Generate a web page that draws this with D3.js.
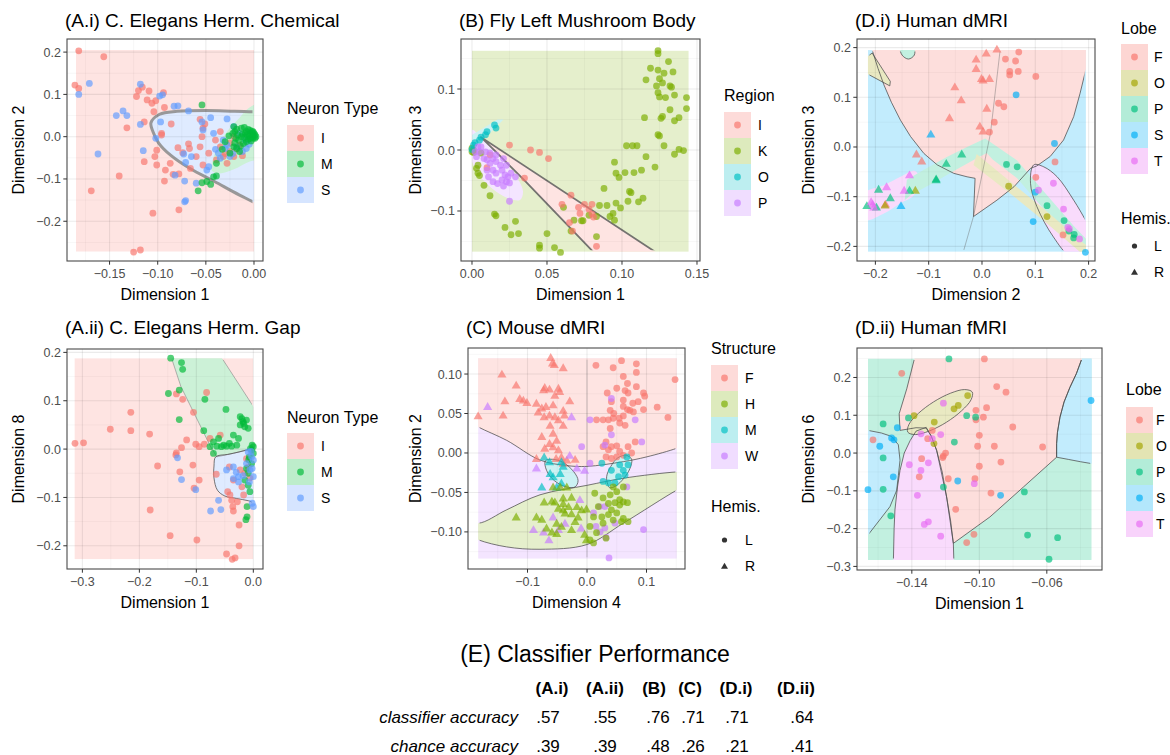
<!DOCTYPE html>
<html>
<head>
<meta charset="utf-8">
<script src="https://cdn.jsdelivr.net/npm/d3@7"></script>
<style>
  body { margin: 0; background: #ffffff; }
  svg { display: block; font-family: "Liberation Sans", Arial, Helvetica, sans-serif; }
</style>
</head>
<body>
<svg id="fig" width="1170" height="755"></svg>
<script>
// ---------- palettes ----------
const hue3 = ["#F8766D", "#00BA38", "#619CFF"];
const hue4 = ["#F8766D", "#7CAE00", "#00BFC4", "#C77CFF"];
const hue5 = ["#F8766D", "#A3A500", "#00BF7D", "#00B0F6", "#E76BF3"];

// ---------- (A.i) C. elegans chemical: embedding points ----------
const neuronTypes = ["I", "M", "S"];
const chemI = [[-0.182,0.203],[-0.156,0.189],[-0.186,0.122],[-0.182,0.114],[-0.120,0.109],[-0.116,0.117],[-0.122,0.095],[-0.109,0.108],[-0.111,0.087],[-0.106,0.079],[-0.102,0.085],[-0.094,0.104],[-0.104,0.059],[-0.093,0.069],[-0.114,0.035],[-0.132,0.021],[-0.086,0.030],[-0.096,0.004],[-0.101,-0.032],[-0.079,-0.026],[-0.068,-0.017],[-0.067,-0.028],[-0.056,-0.024],[-0.054,0.000],[-0.053,0.020],[-0.056,0.041],[-0.051,0.030],[-0.103,-0.047],[-0.114,-0.059],[-0.101,-0.067],[-0.087,-0.063],[-0.092,-0.079],[-0.084,-0.089],[-0.078,-0.088],[-0.093,-0.105],[-0.140,-0.093],[-0.169,-0.128],[-0.105,-0.181],[-0.078,-0.173],[-0.125,-0.273],[-0.118,-0.268],[-0.066,-0.075],[-0.053,-0.067],[-0.040,-0.008],[-0.035,-0.024],[-0.032,-0.047],[-0.025,-0.035],[-0.028,-0.063],[-0.021,-0.047],[-0.021,0.000],[-0.015,-0.020],[-0.047,-0.039],[-0.039,-0.055],[-0.035,0.012],[-0.060,-0.047],[-0.074,-0.038],[-0.096,0.008],[-0.025,-0.015],[-0.018,-0.030],[-0.030,-0.040],[-0.012,-0.045]];
const chemM = [[-0.054,0.075],[-0.021,0.024],[-0.013,0.020],[-0.008,0.012],[-0.004,0.008],[-0.002,0.000],[-0.001,0.004],[-0.006,-0.006],[-0.011,-0.016],[-0.016,-0.008],[-0.013,0.000],[-0.009,0.008],[-0.004,-0.004],[-0.001,-0.004],[0.001,0.004],[-0.021,-0.024],[-0.025,-0.039],[-0.030,-0.012],[-0.015,-0.035],[-0.039,-0.063],[-0.042,-0.095],[-0.039,-0.093],[-0.054,-0.109],[-0.045,-0.113],[-0.049,-0.106],[-0.058,-0.128],[-0.020,0.012],[-0.006,0.017],[-0.002,0.012],[0.001,-0.004],[-0.018,0.018],[-0.010,0.022],[-0.005,0.002],[-0.003,-0.010],[-0.008,-0.012],[-0.012,0.006],[-0.017,0.004],[-0.019,-0.004],[-0.022,0.008],[-0.007,0.004],[0.000,0.008],[0.002,0.000],[-0.004,0.015],[-0.014,-0.022],[-0.020,-0.015],[-0.026,0.002],[-0.033,-0.030],[-0.018,-0.028],[-0.010,-0.002],[-0.001,0.012]];
const chemS = [[-0.171,0.126],[-0.182,0.100],[-0.162,-0.041],[-0.143,0.050],[-0.136,0.061],[-0.132,0.050],[-0.118,0.124],[-0.098,0.096],[-0.095,0.099],[-0.083,0.072],[-0.079,0.073],[-0.068,0.061],[-0.118,0.029],[-0.102,-0.004],[-0.115,-0.033],[-0.097,0.035],[-0.073,-0.041],[-0.065,-0.047],[-0.071,-0.061],[-0.082,-0.091],[-0.072,-0.105],[-0.072,-0.154],[-0.071,-0.151],[-0.060,-0.110],[-0.054,0.035],[-0.045,0.045],[-0.028,0.042],[-0.053,0.016],[-0.042,0.008],[-0.047,-0.071],[-0.037,-0.039],[-0.030,-0.028],[-0.025,-0.047],[-0.018,-0.024],[-0.021,0.024],[-0.015,0.008],[-0.009,-0.008],[-0.008,-0.028],[-0.035,-0.051],[-0.049,-0.079],[-0.028,-0.020],[-0.022,-0.040],[-0.012,-0.035],[-0.032,-0.008],[-0.040,-0.030],[-0.005,-0.018]];
// classifier regions (data coordinates)
const chemArea = { cls: "I", x: [-0.185, 0.0], y: [-0.272, 0.205] };
const chemRegionS = [[0.012,0.058],[-0.02,0.060],[-0.05,0.062],[-0.08,0.060],[-0.098,0.053],[-0.107,0.033],[-0.105,0.012],[-0.099,-0.015],[-0.086,-0.045],[-0.066,-0.076],[-0.041,-0.106],[-0.015,-0.138],[0.012,-0.166],[0.025,-0.166],[0.025,0.058]];
const chemRegionM = [[0.012,0.082],[-0.004,0.070],[-0.015,0.045],[-0.027,0.015],[-0.037,-0.020],[-0.043,-0.055],[-0.044,-0.080],[-0.036,-0.087],[-0.021,-0.077],[-0.005,-0.059],[0.012,-0.046]];

// ---------- (A.ii) C. elegans gap junctions ----------
const gapI = [[-0.313,0.012],[-0.298,0.013],[-0.251,0.041],[-0.215,0.076],[-0.215,0.038],[-0.182,0.031],[-0.168,-0.035],[-0.181,-0.126],[-0.146,-0.179],[-0.099,-0.188],[-0.047,-0.217],[-0.037,-0.228],[-0.032,-0.225],[-0.025,-0.200],[-0.025,-0.157],[-0.135,0.114],[-0.124,0.103],[-0.082,0.117],[-0.105,0.076],[-0.117,0.019],[-0.126,0.003],[-0.135,-0.008],[-0.136,-0.012],[-0.129,-0.047],[-0.106,-0.033],[-0.101,0.010],[-0.095,0.005],[-0.086,0.010],[-0.095,-0.064],[-0.104,-0.081],[-0.076,0.022],[-0.058,0.029],[-0.065,-0.052],[-0.042,-0.037],[-0.045,-0.088],[-0.041,-0.095],[-0.038,-0.106],[-0.028,-0.109],[-0.036,-0.119],[-0.035,-0.128],[-0.035,-0.064],[-0.023,-0.043],[-0.015,-0.050],[-0.009,-0.037],[-0.020,-0.078],[-0.012,-0.020],[-0.006,-0.060],[-0.017,-0.095]];
const gapM = [[-0.145,0.188],[-0.126,0.179],[-0.124,0.165],[-0.149,0.115],[-0.130,0.122],[-0.085,0.103],[-0.048,0.082],[-0.130,0.061],[-0.087,0.038],[-0.023,0.067],[-0.020,0.063],[-0.018,0.057],[-0.012,0.060],[-0.023,0.050],[-0.015,0.046],[-0.009,0.043],[-0.035,0.029],[-0.026,0.022],[-0.061,0.022],[-0.070,0.015],[-0.076,0.005],[-0.064,0.006],[-0.056,0.005],[-0.047,0.006],[-0.038,0.006],[-0.029,0.008],[-0.070,-0.009],[0.000,0.005],[-0.003,-0.002],[-0.007,-0.016],[-0.009,-0.050],[-0.015,-0.064],[-0.009,-0.075],[-0.006,-0.088],[-0.011,-0.119],[-0.013,-0.146],[-0.011,-0.140],[-0.002,0.008],[0.000,-0.009],[-0.003,-0.030],[-0.017,0.053],[-0.005,0.001],[-0.052,0.008],[-0.042,0.012],[-0.008,-0.022],[-0.012,-0.040]];
const gapS = [[-0.133,-0.018],[-0.126,-0.063],[-0.101,-0.084],[-0.061,-0.106],[-0.057,-0.125],[-0.075,-0.128],[-0.047,-0.043],[-0.035,-0.037],[-0.026,-0.057],[-0.026,-0.068],[-0.012,-0.030],[-0.006,-0.043],[-0.003,-0.016],[0.000,-0.023],[-0.002,-0.040],[0.000,-0.057],[-0.007,-0.068],[0.000,-0.119],[-0.002,-0.112],[-0.009,-0.006],[-0.035,-0.061],[-0.004,-0.005],[-0.030,-0.048],[-0.018,-0.055]];
const gapArea = { cls: "I", x: [-0.314, 0.0], y: [-0.228, 0.188] };
const gapRegionM = [[-0.145,0.21],[-0.057,0.21],[-0.055,0.188],[0.005,0.079],[0.005,0.008],[-0.005,0.0],[-0.013,-0.002],[-0.036,-0.009],[-0.064,-0.016],[-0.075,0.005],[-0.098,0.06],[-0.127,0.129],[-0.1435,0.188]];
const gapRegionS = [[-0.066,-0.016],[-0.045,-0.011],[-0.025,-0.006],[-0.008,-0.001],[0.006,0.002],[0.006,-0.112],[-0.008,-0.107],[-0.030,-0.102],[-0.050,-0.097],[-0.063,-0.085],[-0.069,-0.060],[-0.069,-0.035]];

// ---------- (B) Fly left mushroom body ----------
const flyRegions = ["I", "K", "O", "P"];
const flyI = [[0.025,0.008],[0.039,0.000],[0.045,-0.004],[0.051,-0.014],[0.035,-0.046],[0.010,-0.029],[0.012,-0.008],[0.066,-0.074],[0.060,-0.089],[0.071,-0.094],[0.072,-0.104],[0.075,-0.089],[0.078,-0.097],[0.080,-0.089],[0.080,-0.105],[0.081,-0.110],[0.065,-0.119],[0.067,-0.133],[0.083,-0.158]];
const flyK = [[0.124,0.163],[0.124,0.158],[0.131,0.145],[0.119,0.134],[0.124,0.131],[0.134,0.128],[0.116,0.115],[0.125,0.117],[0.128,0.126],[0.123,0.105],[0.127,0.110],[0.132,0.105],[0.133,0.103],[0.124,0.094],[0.125,0.087],[0.129,0.086],[0.135,0.090],[0.143,0.086],[0.143,0.068],[0.132,0.066],[0.138,0.053],[0.135,0.048],[0.127,0.055],[0.126,0.052],[0.115,0.053],[0.124,0.025],[0.125,0.023],[0.128,0.007],[0.135,-0.007],[0.138,0.001],[0.141,-0.001],[0.116,-0.011],[0.103,0.007],[0.107,0.007],[0.110,0.007],[0.113,-0.033],[0.108,-0.037],[0.102,-0.037],[0.095,-0.020],[0.096,-0.038],[0.098,-0.045],[0.122,-0.028],[0.114,-0.079],[0.111,-0.085],[0.104,-0.084],[0.106,-0.070],[0.105,-0.068],[0.099,-0.095],[0.096,-0.087],[0.094,-0.104],[0.092,-0.109],[0.090,-0.091],[0.085,-0.091],[0.083,-0.109],[0.095,-0.115],[0.088,-0.063],[0.074,-0.116],[0.073,-0.116],[0.066,-0.133],[0.061,-0.094],[0.083,-0.142],[0.050,-0.137],[0.045,-0.156],[0.045,-0.161],[0.055,-0.160],[0.059,-0.168],[0.031,-0.137],[0.026,-0.139],[0.022,-0.127],[0.029,-0.117],[0.016,-0.108],[0.015,-0.105],[0.012,-0.075],[0.008,-0.058],[0.005,-0.042],[0.004,-0.038],[0.003,-0.030],[0.004,-0.025],[0.006,-0.005],[0.001,0.000],[0.000,-0.003],[0.000,0.003],[0.001,-0.004],[0.068,-0.115],[0.078,-0.107]];
const flyO = [[0.015,0.041],[0.016,0.036],[0.010,0.030],[0.009,0.025],[0.006,0.021],[0.005,0.016],[0.002,0.012],[0.001,0.008],[0.000,0.001]];
const flyP = [[0.002,-0.003],[0.003,-0.011],[0.004,0.005],[0.006,0.005],[0.008,-0.014],[0.010,-0.016],[0.012,-0.022],[0.014,-0.014],[0.016,-0.019],[0.019,-0.025],[0.014,-0.033],[0.016,-0.038],[0.020,-0.033],[0.022,-0.041],[0.024,-0.044],[0.026,-0.038],[0.029,-0.044],[0.020,-0.049],[0.017,-0.055],[0.021,-0.059],[0.014,-0.052],[0.011,-0.044],[0.023,-0.052],[0.025,-0.054],[0.009,-0.003],[0.012,-0.005],[0.005,-0.003],[0.016,-0.008],[0.021,-0.014],[0.023,-0.025],[0.010,-0.033],[0.025,-0.084]];
const flyArea = { cls: "K", x: [0.0, 0.1445], y: [-0.167, 0.163] };
const flyRegionP = [[0.0,0.033],[0.006,0.020],[0.014,0.000],[0.022,-0.020],[0.030,-0.045],[0.034,-0.068],[0.032,-0.082],[0.025,-0.080],[0.016,-0.068],[0.007,-0.048],[0.001,-0.025],[-0.002,0.000],[-0.003,0.020]];
const flyRegionO = [[-0.002,0.008],[-0.002,0.022],[0.017,0.050],[0.021,0.050],[0.012,0.028],[0.003,0.012]];
const flyRegionI = [[0.006,0.021],[0.124,-0.170],[0.082,-0.170],[0.035,-0.050],[0.018,-0.008]];

// ---------- (C) Mouse dMRI ----------
const mouseStructures = ["F", "H", "M", "W"];
const mouseF_R = [[-0.061,0.121],[-0.058,0.114],[-0.055,0.112],[-0.040,0.108],[-0.143,0.100],[-0.119,0.086],[-0.073,0.080],[-0.063,0.081],[-0.048,0.082],[-0.046,0.078],[-0.113,0.069],[-0.107,0.067],[-0.101,0.064],[-0.138,0.066],[-0.183,0.047],[-0.141,0.048],[-0.085,0.063],[-0.076,0.057],[-0.069,0.059],[-0.057,0.061],[-0.029,0.066],[-0.082,0.052],[-0.072,0.046],[-0.063,0.048],[-0.054,0.046],[-0.040,0.054],[-0.048,0.042],[-0.040,0.035],[-0.062,0.035],[-0.057,0.025],[-0.051,0.016],[-0.063,0.012],[-0.071,0.006],[-0.057,0.008],[-0.048,0.004],[-0.085,-0.007],[-0.043,-0.005],[-0.040,-0.013],[-0.052,-0.007],[-0.034,-0.009],[-0.020,-0.008],[-0.071,0.083],[-0.054,0.073],[-0.038,0.048],[-0.076,0.021]];
const mouseF_L = [[0.015,0.111],[0.044,0.108],[0.058,0.117],[0.083,0.113],[0.083,0.102],[0.068,0.088],[0.064,0.079],[0.095,0.076],[0.097,0.072],[0.034,0.076],[0.061,0.067],[0.077,0.063],[0.061,0.059],[0.068,0.055],[0.078,0.052],[0.095,0.055],[0.118,0.058],[0.136,0.045],[0.148,0.093],[0.039,0.054],[0.045,0.050],[0.027,0.042],[0.036,0.042],[0.044,0.044],[0.054,0.044],[0.061,0.047],[0.055,0.038],[0.064,0.035],[0.039,0.031],[0.016,0.042],[0.032,0.014],[0.027,0.008],[0.036,0.004],[0.041,0.008],[0.050,0.009],[0.055,0.002],[0.061,-0.003],[0.069,0.008],[0.075,0.000],[0.081,0.014],[0.032,-0.005],[0.041,-0.007],[0.050,-0.005],[0.072,0.054],[0.086,0.065],[0.041,0.065],[0.061,0.097],[0.069,0.076],[0.083,0.084],[0.050,0.082]];
const mouseH_R = [[-0.119,-0.081],[-0.085,-0.081],[-0.076,-0.084],[-0.072,-0.062],[-0.059,-0.061],[-0.054,-0.062],[-0.040,-0.064],[-0.026,-0.056],[-0.057,-0.043],[-0.045,-0.043],[-0.034,-0.043],[-0.040,-0.072],[-0.037,-0.076],[-0.026,-0.077],[-0.051,-0.089],[-0.068,-0.095],[-0.059,-0.100],[-0.051,-0.102],[-0.043,-0.093],[-0.026,-0.097],[-0.020,-0.087],[-0.015,-0.081],[-0.009,-0.072],[-0.001,-0.071],[-0.001,-0.110],[-0.004,-0.103],[-0.017,-0.068],[-0.031,-0.068],[-0.040,-0.057],[-0.048,-0.070]];
const mouseH_L = [[0.044,-0.043],[0.061,-0.043],[0.013,-0.051],[0.027,-0.057],[0.039,-0.053],[0.050,-0.049],[0.055,-0.059],[0.061,-0.062],[0.068,-0.063],[0.019,-0.068],[0.036,-0.064],[0.047,-0.063],[0.041,-0.072],[0.055,-0.066],[0.011,-0.081],[0.025,-0.081],[0.036,-0.078],[0.050,-0.076],[0.027,-0.089],[0.044,-0.085],[0.061,-0.083],[0.069,-0.087],[0.005,-0.093],[0.016,-0.101],[0.032,-0.108],[0.005,-0.110],[0.011,-0.114],[0.058,-0.087]];
const mouseM_R = [[-0.072,-0.005],[-0.063,-0.011],[-0.043,-0.011],[-0.040,-0.017],[-0.062,-0.026],[-0.057,-0.030],[-0.045,-0.026],[-0.076,-0.043],[-0.051,-0.043],[-0.043,-0.038]];
const mouseM_L = [[0.025,-0.013],[0.041,-0.022],[0.055,-0.015],[0.061,-0.022],[0.069,-0.015],[0.053,-0.030],[0.027,-0.036],[0.036,-0.038],[0.047,-0.038],[0.067,-0.005],[0.064,-0.028]];
const mouseW_R = [[-0.167,0.059],[-0.026,0.046],[-0.085,-0.019],[-0.017,-0.019],[-0.090,-0.097],[-0.073,-0.100],[-0.048,-0.097],[-0.037,-0.089],[-0.010,-0.095],[-0.064,-0.110],[-0.057,-0.081],[-0.004,-0.022],[-0.029,-0.003],[-0.012,-0.059]];
const mouseW_L = [[0.041,0.069],[0.005,0.042],[-0.009,0.008],[0.005,-0.013],[0.030,0.010],[0.081,0.042],[0.092,0.014],[0.041,0.023],[0.021,-0.068],[0.011,-0.076],[0.015,-0.093],[0.022,-0.100],[0.030,-0.095],[0.032,-0.107],[0.047,-0.089],[0.037,-0.133],[0.095,-0.097],[0.067,-0.043],[0.030,-0.068]];
const mouseArea = { cls: "W", x: [-0.183, 0.151], y: [-0.134, 0.12] };
const mouseRegionF = [[-0.21,0.14],[0.17,0.14],[0.17,0.012],[0.151,0.006],[0.100,-0.005],[0.061,-0.011],[0.0,-0.017],[-0.034,-0.016],[-0.079,-0.009],[-0.135,0.016],[-0.183,0.033],[-0.21,0.045]];
const mouseRegionH = [[-0.21,-0.082],[-0.183,-0.089],[-0.135,-0.072],[-0.079,-0.053],[0.0,-0.041],[0.061,-0.032],[0.151,-0.024],[0.17,-0.024],[0.17,-0.040],[0.151,-0.047],[0.061,-0.089],[0.0,-0.116],[-0.079,-0.122],[-0.135,-0.119],[-0.183,-0.110],[-0.21,-0.100]];
const mouseRegionM1 = [[-0.070,-0.010],[-0.058,-0.008],[-0.040,-0.012],[-0.022,-0.024],[-0.015,-0.035],[-0.020,-0.043],[-0.035,-0.043],[-0.055,-0.035],[-0.068,-0.022]];
const mouseRegionM2 = [[0.035,-0.040],[0.033,-0.030],[0.040,-0.017],[0.052,-0.006],[0.066,-0.003],[0.075,-0.008],[0.072,-0.020],[0.062,-0.032],[0.048,-0.042],[0.038,-0.044]];
const mouseMidline = [[0.0,-0.134],[0.0,0.12]];

// ---------- (D.i) Human dMRI ----------
const lobes = ["F", "O", "P", "S", "T"];
const dmriF_R = [[-0.011,0.177],[-0.011,0.158],[0.008,0.189],[0.028,0.197],[-0.001,0.138],[0.002,0.135],[0.014,0.138],[-0.051,0.121],[-0.039,0.095],[-0.061,0.059],[0.009,0.078],[-0.004,0.042],[0.002,0.032],[-0.123,-0.014],[-0.113,-0.028],[-0.181,-0.115]];
const dmriF_L = [[0.044,0.177],[0.063,0.173],[0.069,0.191],[0.052,0.152],[0.052,0.145],[0.068,0.152],[0.101,0.142],[0.031,0.088],[0.041,0.081],[0.023,0.050],[0.014,0.030],[0.101,-0.061],[0.152,-0.177],[0.137,-0.030]];
const dmriO_L = [[0.050,-0.079],[0.122,-0.140]];
const dmriO_R = [[-0.125,-0.087],[-0.182,-0.117]];
const dmriP_L = [[0.046,-0.035],[0.066,-0.040],[0.122,-0.118],[0.154,-0.148],[0.163,-0.169],[0.173,-0.176],[0.172,-0.183]];
const dmriP_R = [[-0.038,-0.014],[-0.067,-0.033],[-0.086,-0.064],[-0.086,-0.066],[-0.136,-0.087],[-0.194,-0.085],[-0.216,-0.118],[-0.198,-0.121],[-0.172,-0.102]];
const dmriS_L = [[0.064,0.105],[0.136,0.007],[0.100,-0.091],[0.096,-0.150],[0.194,-0.212]];
const dmriS_R = [[-0.096,0.026],[-0.152,-0.118]];
const dmriT_L = [[0.134,-0.073],[0.106,-0.087],[0.153,-0.125],[0.161,-0.162],[0.164,-0.165],[0.183,-0.185]];
const dmriT_R = [[-0.136,-0.056],[-0.146,-0.087],[-0.179,-0.080],[-0.208,-0.110],[-0.205,-0.115],[-0.203,-0.121]];
const dmriArea = { cls: "S", x: [-0.214, 0.195], y: [-0.211, 0.195] };
const dmriRegionF = [[-0.212,0.23],[-0.206,0.195],[-0.195,0.158],[-0.184,0.125],[-0.170,0.090],[-0.153,0.054],[-0.134,0.021],[-0.109,-0.013],[-0.084,-0.036],[-0.053,-0.053],[-0.028,-0.060],[-0.013,-0.063],[-0.016,-0.140],[0.028,-0.107],[0.060,-0.080],[0.091,-0.043],[0.103,-0.038],[0.128,-0.019],[0.153,0.014],[0.172,0.061],[0.184,0.108],[0.194,0.152],[0.200,0.180],[0.220,0.230]];
const dmriRegionPTop = [[-0.153,0.200],[-0.128,0.200],[-0.127,0.185],[-0.138,0.177],[-0.150,0.185]];
const dmriRegionOTop = [[-0.220,0.178],[-0.206,0.189],[-0.172,0.132],[-0.173,0.123],[-0.220,0.150]];
const dmriRegionTLeft = [[-0.220,-0.093],[-0.184,-0.077],[-0.153,-0.060],[-0.128,-0.048],[-0.120,-0.055],[-0.128,-0.097],[-0.153,-0.113],[-0.184,-0.134],[-0.220,-0.147]];
const dmriRegionTRight = [[0.097,-0.036],[0.116,-0.040],[0.141,-0.060],[0.172,-0.107],[0.194,-0.147],[0.200,-0.160],[0.200,-0.220],[0.166,-0.220],[0.134,-0.181],[0.103,-0.120],[0.091,-0.073]];
const dmriRegionP = [[-0.141,-0.066],[-0.109,-0.046],[-0.066,-0.020],[-0.028,0.000],[0.006,0.017],[0.066,-0.027],[0.122,-0.097],[0.173,-0.160],[0.200,-0.190],[0.200,-0.222],[0.173,-0.196],[0.122,-0.133],[0.066,-0.063],[0.020,-0.025],[0.009,-0.012],[-0.009,-0.022],[-0.047,-0.045],[-0.091,-0.072],[-0.134,-0.097],[-0.145,-0.107]];
const dmriRegionO = [[-0.010,-0.014],[0.050,-0.067],[0.122,-0.130],[0.190,-0.193],[0.200,-0.200],[0.200,-0.220],[0.190,-0.217],[0.122,-0.154],[0.050,-0.091],[-0.016,-0.036]];
const dmriSeam = [[-0.034,-0.207],[-0.016,-0.140],[0.016,0.028],[0.034,0.195]];

// ---------- (D.ii) Human fMRI ----------
const fmriF = [[-0.097,0.249],[-0.0897,0.176],[-0.0842,0.161],[-0.102,0.113],[-0.0957,0.120],[-0.0976,0.095],[-0.102,0.088],[-0.0802,0.069],[-0.100,0.047],[-0.101,0.018],[-0.0911,0.018],[-0.0625,0.016],[-0.0872,-0.024],[-0.100,-0.035],[-0.1026,-0.068],[-0.0931,-0.106],[-0.114,-0.149],[-0.1184,-0.068],[-0.120,0.000],[-0.1213,-0.008],[-0.1217,-0.012],[-0.1279,0.060],[-0.1306,0.038],[-0.1356,-0.063],[-0.1342,-0.015],[-0.1032,-0.215],[-0.146,0.211],[-0.163,0.035],[-0.1075,-0.237]];
const fmriO = [[-0.1387,0.099],[-0.1267,0.082],[-0.1269,0.025],[-0.115,0.117],[-0.1125,0.126],[-0.1069,0.152]];
const fmriP = [[-0.118,0.249],[-0.142,0.093],[-0.157,0.077],[-0.157,-0.013],[-0.157,-0.096],[-0.1525,-0.166],[-0.1148,0.029],[-0.1075,0.099],[-0.1022,0.095],[-0.1213,-0.090],[-0.0733,-0.103],[-0.0714,-0.217],[-0.0536,-0.224],[-0.0587,-0.281]];
const fmriS = [[-0.0338,0.139],[-0.1486,0.067],[-0.152,0.040],[-0.1506,0.035],[-0.159,0.018],[-0.151,-0.063],[-0.166,-0.097],[-0.1128,-0.074],[-0.0874,-0.112]];
const fmriT = [[-0.1213,0.132],[-0.1346,0.051],[-0.1229,0.049],[-0.1302,-0.026],[-0.1415,-0.031],[-0.1346,-0.046],[-0.1367,-0.112],[-0.1326,-0.189],[-0.1302,-0.182],[-0.1229,-0.220],[-0.103,-0.081],[-0.1279,0.038]];
const fmriArea = { cls: "P", x: [-0.166, -0.0334], y: [-0.283, 0.25] };
const fmriRegionSRight = [[-0.038,0.27],[-0.0393,0.249],[-0.0425,0.21],[-0.0463,0.174],[-0.0498,0.135],[-0.0522,0.095],[-0.0537,0.055],[-0.0542,0.025],[-0.0542,-0.011],[-0.047,-0.017],[-0.040,-0.023],[-0.0334,-0.028],[-0.020,-0.032],[-0.020,0.27]];
const fmriRegionF = [[-0.137,0.27],[-0.038,0.27],[-0.0393,0.249],[-0.0425,0.21],[-0.0463,0.174],[-0.0498,0.135],[-0.0522,0.095],[-0.0537,0.055],[-0.0542,0.025],[-0.0542,-0.011],[-0.0739,-0.090],[-0.0937,-0.169],[-0.1154,-0.239],[-0.1194,-0.116],[-0.1253,0.007],[-0.1285,0.045],[-0.1315,0.066],[-0.1375,0.067],[-0.1470,0.060],[-0.1475,0.104],[-0.1430,0.170],[-0.1385,0.249]];
const fmriRegionT = [[-0.151,-0.30],[-0.1505,-0.20],[-0.150,-0.15],[-0.1485,-0.09],[-0.147,-0.046],[-0.1445,0.000],[-0.141,0.033],[-0.1375,0.058],[-0.1315,0.068],[-0.1285,0.045],[-0.1253,0.007],[-0.122,-0.050],[-0.1194,-0.116],[-0.117,-0.180],[-0.1154,-0.239],[-0.115,-0.30]];
const fmriRegionSLeft = [[-0.18,0.062],[-0.166,0.060],[-0.158,0.053],[-0.152,0.044],[-0.148,0.022],[-0.147,-0.019],[-0.148,-0.060],[-0.149,-0.099],[-0.153,-0.142],[-0.166,-0.217],[-0.18,-0.225]];
const fmriRegionO = [[-0.1042,0.1616],[-0.1049,0.1410],[-0.1105,0.1119],[-0.1195,0.0815],[-0.1296,0.0585],[-0.1379,0.0489],[-0.1424,0.0553],[-0.1417,0.0759],[-0.1361,0.1050],[-0.1271,0.1354],[-0.1170,0.1585],[-0.1087,0.1680]];

// ---------- axis ticks ----------
const chemXTicks = [-0.15, -0.10, -0.05, 0.00], chemYTicks = [-0.2, -0.1, 0.0, 0.1, 0.2];
const gapXTicks = [-0.3, -0.2, -0.1, 0.0], gapYTicks = [-0.2, -0.1, 0.0, 0.1, 0.2];
const flyXTicks = [0.00, 0.05, 0.10, 0.15], flyYTicks = [-0.1, 0.0, 0.1];
const mouseXTicks = [-0.1, 0.0, 0.1], mouseYTicks = [-0.10, -0.05, 0.00, 0.05, 0.10];
const dmriXTicks = [-0.2, -0.1, 0.0, 0.1, 0.2], dmriYTicks = [-0.2, -0.1, 0.0, 0.1, 0.2];
const fmriXTicks = [-0.14, -0.10, -0.06], fmriYTicks = [-0.3, -0.2, -0.1, 0.0, 0.1, 0.2];

// ---------- (E) classifier performance ----------
const perfColumns = ["(A.i)", "(A.ii)", "(B)", "(C)", "(D.i)", "(D.ii)"];
const perfRows = ["classifier accuracy", "chance accuracy"];
const classifierAccuracy = [0.57, 0.55, 0.76, 0.71, 0.71, 0.64];
const chanceAccuracy = [0.39, 0.39, 0.48, 0.26, 0.21, 0.41];

// =====================================================================
const svg = d3.select("#fig");
const defs = svg.append("defs");
svg.append("rect").attr("width", 1170).attr("height", 755).attr("fill", "#ffffff");

const blend = (c, a) => d3.interpolateRgb("#ffffff", c)(a);
const fmt = dec => v => d3.format("." + dec + "f")(Math.abs(v) < 1e-12 ? 0 : v).replace("-", "\u2212");
const triangle = d3.symbol().type(d3.symbolTriangle);

function minorBreaks(ticks, domain) {
  const step = ticks[1] - ticks[0];
  const out = [];
  for (let i = -1; i < ticks.length; i++) {
    const v = ticks[0] + step * (i + 0.5);
    if (v > domain[0] && v < domain[1]) out.push(v);
  }
  return out;
}

function drawMark(g, shape, px, py, color, opacity, r) {
  if (shape === "tri") {
    g.append("path").attr("d", triangle.size(r * r * 3.1)())
      .attr("transform", `translate(${px},${py + r * 0.25})`)
      .attr("fill", color).attr("fill-opacity", opacity);
  } else {
    g.append("circle").attr("cx", px).attr("cy", py).attr("r", r)
      .attr("fill", color).attr("fill-opacity", opacity);
  }
}

function drawPanel(p) {
  const g = svg.append("g");
  const [bx0, bx1, by0, by1] = p.box;
  const x = d3.scaleLinear().domain(p.xDomain).range([bx0, bx1]);
  const y = d3.scaleLinear().domain(p.yDomain).range([by1, by0]);
  const rx0 = x(p.area.x[0]), rx1 = x(p.area.x[1]);
  const ry0 = y(p.area.y[1]), ry1 = y(p.area.y[0]);

  defs.append("clipPath").attr("id", p.id + "-area").append("rect")
    .attr("x", rx0).attr("y", ry0).attr("width", rx1 - rx0).attr("height", ry1 - ry0);
  defs.append("clipPath").attr("id", p.id + "-inner").append("rect")
    .attr("x", rx0 + 1.5).attr("y", ry0 + 1.5).attr("width", rx1 - rx0 - 3).attr("height", ry1 - ry0 - 3);
  defs.append("clipPath").attr("id", p.id + "-panel").append("rect")
    .attr("x", bx0).attr("y", by0).attr("width", bx1 - bx0).attr("height", by1 - by0);

  const fillOf = c => blend(p.colors[c], p.fillAlpha);
  const line = d3.line().x(d => x(d[0])).y(d => y(d[1]));
  const curveOf = r => r.smooth ? d3.curveCatmullRomClosed.alpha(0.5) : d3.curveLinearClosed;

  // decision regions
  const regionG = g.append("g").attr("clip-path", `url(#${p.id}-area)`);
  regionG.append("rect").attr("x", rx0).attr("y", ry0).attr("width", rx1 - rx0).attr("height", ry1 - ry0)
    .attr("fill", fillOf(p.area.cls));
  p.regions.forEach(r => {
    regionG.append("path").attr("d", line.curve(curveOf(r))(r.pts)).attr("fill", fillOf(r.cls));
  });
  const strokeG = g.append("g").attr("clip-path", `url(#${p.id}-inner)`);
  p.regions.forEach(r => {
    if (!r.stroke) return;
    strokeG.append("path").attr("d", line.curve(curveOf(r))(r.pts))
      .attr("fill", "none").attr("stroke", r.stroke.color).attr("stroke-width", r.stroke.width)
      .attr("stroke-opacity", r.stroke.opacity).attr("stroke-linejoin", "round");
  });
  (p.lines || []).forEach(l => {
    strokeG.append("path").attr("d", d3.line().x(d => x(d[0])).y(d => y(d[1]))(l.pts))
      .attr("fill", "none").attr("stroke", l.color).attr("stroke-width", l.width).attr("stroke-opacity", l.opacity);
  });

  // grid
  const gridG = g.append("g").attr("clip-path", `url(#${p.id}-panel)`);
  const gridStroke = "#000000";
  minorBreaks(p.xTicks, p.xDomain).forEach(v => gridG.append("line").attr("x1", x(v)).attr("x2", x(v))
    .attr("y1", by0).attr("y2", by1).attr("stroke", gridStroke).attr("stroke-opacity", 0.055).attr("stroke-width", 0.6));
  minorBreaks(p.yTicks, p.yDomain).forEach(v => gridG.append("line").attr("y1", y(v)).attr("y2", y(v))
    .attr("x1", bx0).attr("x2", bx1).attr("stroke", gridStroke).attr("stroke-opacity", 0.055).attr("stroke-width", 0.6));
  p.xTicks.forEach(v => gridG.append("line").attr("x1", x(v)).attr("x2", x(v))
    .attr("y1", by0).attr("y2", by1).attr("stroke", gridStroke).attr("stroke-opacity", 0.08).attr("stroke-width", 1.1));
  p.yTicks.forEach(v => gridG.append("line").attr("y1", y(v)).attr("y2", y(v))
    .attr("x1", bx0).attr("x2", bx1).attr("stroke", gridStroke).attr("stroke-opacity", 0.08).attr("stroke-width", 1.1));

  // observations
  const ptG = g.append("g").attr("clip-path", `url(#${p.id}-panel)`);
  p.points.forEach(s => {
    s.pts.forEach(d => drawMark(ptG, s.shape, x(d[0]), y(d[1]), p.colors[s.cls], 0.68, 3.4));
  });

  // frame, ticks, labels
  g.append("rect").attr("x", bx0).attr("y", by0).attr("width", bx1 - bx0).attr("height", by1 - by0)
    .attr("fill", "none").attr("stroke", "#4a4a4a").attr("stroke-width", 1.1);
  p.xTicks.forEach(v => {
    g.append("line").attr("x1", x(v)).attr("x2", x(v)).attr("y1", by1).attr("y2", by1 + 3.7)
      .attr("stroke", "#333").attr("stroke-width", 1);
    g.append("text").attr("x", x(v)).attr("y", by1 + 17).attr("text-anchor", "middle")
      .attr("font-size", 12.5).attr("fill", "#4d4d4d").text(p.xFmt(v));
  });
  p.yTicks.forEach(v => {
    g.append("line").attr("x1", bx0 - 3.7).attr("x2", bx0).attr("y1", y(v)).attr("y2", y(v))
      .attr("stroke", "#333").attr("stroke-width", 1);
    g.append("text").attr("x", bx0 - 6).attr("y", y(v)).attr("dy", "0.36em").attr("text-anchor", "end")
      .attr("font-size", 12.5).attr("fill", "#4d4d4d").text(p.yFmt(v));
  });
  g.append("text").attr("x", (bx0 + bx1) / 2).attr("y", by1 + 39).attr("text-anchor", "middle")
    .attr("font-size", 16).attr("fill", "#000").text(p.xLabel);
  g.append("text").attr("transform", `translate(${bx0 - p.yTitleGap},${(by0 + by1) / 2}) rotate(-90)`)
    .attr("text-anchor", "middle").attr("font-size", 16).attr("fill", "#000").text(p.yLabel);
  g.append("text").attr("x", bx0 - 2).attr("y", p.titleY).attr("font-size", 19).attr("fill", "#000").text(p.title);

  // legends
  p.legends.forEach(L => {
    const lg = svg.append("g");
    const labelGap = L.labelGap || 34;
    lg.append("text").attr("x", L.x).attr("y", L.titleY).attr("font-size", 16).attr("fill", "#000").text(L.title);
    L.items.forEach((it, i) => {
      const top = L.keyTop + i * 26, cy = top + 13;
      if (L.fill) {
        lg.append("rect").attr("x", L.x).attr("y", top).attr("width", 27).attr("height", 26)
          .attr("fill", blend(p.colors[it], p.fillAlpha + 0.06));
        drawMark(lg, "circle", L.x + 13.5, cy, p.colors[it], 0.68, 3.4);
      } else {
        drawMark(lg, it.shape, L.x + 13.5, cy, "#333333", 1, 2.6);
      }
      lg.append("text").attr("x", L.x + labelGap).attr("y", cy + 5).attr("font-size", 14).attr("fill", "#000")
        .text(L.fill ? it : it.label);
    });
  });
}

const hemiItems = [{ label: "L", shape: "circle" }, { label: "R", shape: "tri" }];
const thin = { color: "#4d4d4d", width: 0.9, opacity: 0.85 };

drawPanel({
  id: "ai", box: [67, 263, 39, 261], xDomain: [-0.1942, 0.00935], yDomain: [-0.294, 0.231],
  xTicks: chemXTicks, yTicks: chemYTicks, xFmt: fmt(2), yFmt: fmt(1),
  title: "(A.i) C. Elegans Herm. Chemical", titleY: 27, xLabel: "Dimension 1", yLabel: "Dimension 2", yTitleGap: 43,
  colors: { I: hue3[0], M: hue3[1], S: hue3[2] }, fillAlpha: 0.2,
  area: chemArea,
  regions: [
    { cls: "S", pts: chemRegionS, smooth: true, stroke: { color: "#8f8f8f", width: 3, opacity: 0.9 } },
    { cls: "M", pts: chemRegionM, smooth: true }
  ],
  points: [{ cls: "I", pts: chemI }, { cls: "S", pts: chemS }, { cls: "M", pts: chemM }],
  legends: [{ title: "Neuron Type", x: 287, titleY: 114, keyTop: 125, fill: true, items: neuronTypes }]
});

drawPanel({
  id: "aii", box: [67, 263, 349, 569], xDomain: [-0.327, 0.017], yDomain: [-0.248, 0.207],
  xTicks: gapXTicks, yTicks: gapYTicks, xFmt: fmt(1), yFmt: fmt(1),
  title: "(A.ii) C. Elegans Herm. Gap", titleY: 334, xLabel: "Dimension 1", yLabel: "Dimension 8", yTitleGap: 43,
  colors: { I: hue3[0], M: hue3[1], S: hue3[2] }, fillAlpha: 0.2,
  area: gapArea,
  regions: [
    { cls: "M", pts: gapRegionM, smooth: false, stroke: { color: "#8a8a8a", width: 0.8, opacity: 0.8 } },
    { cls: "S", pts: gapRegionS, smooth: true, stroke: thin }
  ],
  points: [{ cls: "I", pts: gapI }, { cls: "M", pts: gapM }, { cls: "S", pts: gapS }],
  legends: [{ title: "Neuron Type", x: 287, titleY: 423, keyTop: 433, fill: true, items: neuronTypes }]
});

drawPanel({
  id: "b", box: [461, 700, 39, 261], xDomain: [-0.00733, 0.152], yDomain: [-0.182, 0.182],
  xTicks: flyXTicks, yTicks: flyYTicks, xFmt: fmt(2), yFmt: fmt(1),
  title: "(B) Fly Left Mushroom Body", titleY: 27, xLabel: "Dimension 1", yLabel: "Dimension 3", yTitleGap: 40,
  colors: { I: hue4[0], K: hue4[1], O: hue4[2], P: hue4[3] }, fillAlpha: 0.2,
  area: flyArea,
  regions: [
    { cls: "P", pts: flyRegionP, smooth: true },
    { cls: "O", pts: flyRegionO, smooth: false },
    { cls: "I", pts: flyRegionI, smooth: false, stroke: { color: "#5e5e5e", width: 1.8, opacity: 0.85 } }
  ],
  points: [{ cls: "K", pts: flyK }, { cls: "I", pts: flyI }, { cls: "O", pts: flyO }, { cls: "P", pts: flyP }],
  legends: [{ title: "Region", x: 724, titleY: 101, keyTop: 112, fill: true, items: flyRegions }]
});

drawPanel({
  id: "c", box: [468, 685, 348, 569], xDomain: [-0.200, 0.1647], yDomain: [-0.147, 0.133],
  xTicks: mouseXTicks, yTicks: mouseYTicks, xFmt: fmt(1), yFmt: fmt(2),
  title: "(C) Mouse dMRI", titleY: 334, xLabel: "Dimension 4", yLabel: "Dimension 2", yTitleGap: 47,
  colors: { F: hue4[0], H: hue4[1], M: hue4[2], W: hue4[3] }, fillAlpha: 0.2,
  area: mouseArea,
  regions: [
    { cls: "F", pts: mouseRegionF, smooth: true, stroke: thin },
    { cls: "H", pts: mouseRegionH, smooth: true, stroke: thin },
    { cls: "M", pts: mouseRegionM1, smooth: true, stroke: thin },
    { cls: "M", pts: mouseRegionM2, smooth: true, stroke: thin }
  ],
  lines: [{ pts: mouseMidline, color: "#777", width: 0.7, opacity: 0.5 }],
  points: [
    { cls: "F", shape: "tri", pts: mouseF_R }, { cls: "F", shape: "circle", pts: mouseF_L },
    { cls: "W", shape: "tri", pts: mouseW_R }, { cls: "W", shape: "circle", pts: mouseW_L },
    { cls: "M", shape: "tri", pts: mouseM_R }, { cls: "M", shape: "circle", pts: mouseM_L },
    { cls: "H", shape: "tri", pts: mouseH_R }, { cls: "H", shape: "circle", pts: mouseH_L }
  ],
  legends: [
    { title: "Structure", x: 711, titleY: 354, keyTop: 365, fill: true, items: mouseStructures },
    { title: "Hemis.", x: 711, titleY: 512, keyTop: 527, fill: false, items: hemiItems }
  ]
});

drawPanel({
  id: "di", box: [857, 1095, 39, 261], xDomain: [-0.2345, 0.212], yDomain: [-0.2294, 0.2173],
  xTicks: dmriXTicks, yTicks: dmriYTicks, xFmt: fmt(1), yFmt: fmt(1),
  title: "(D.i) Human dMRI", titleY: 27, xLabel: "Dimension 2", yLabel: "Dimension 3", yTitleGap: 43,
  colors: { F: hue5[0], O: hue5[1], P: hue5[2], S: hue5[3], T: hue5[4] }, fillAlpha: 0.24,
  area: dmriArea,
  regions: [
    { cls: "F", pts: dmriRegionF, smooth: false, stroke: thin },
    { cls: "P", pts: dmriRegionPTop, smooth: true, stroke: thin },
    { cls: "O", pts: dmriRegionOTop, smooth: false, stroke: thin },
    { cls: "T", pts: dmriRegionTLeft, smooth: true },
    { cls: "T", pts: dmriRegionTRight, smooth: true, stroke: thin },
    { cls: "P", pts: dmriRegionP, smooth: false },
    { cls: "O", pts: dmriRegionO, smooth: false }
  ],
  lines: [{ pts: dmriSeam, color: "#666", width: 0.7, opacity: 0.6 }],
  points: [
    { cls: "F", shape: "tri", pts: dmriF_R }, { cls: "F", shape: "circle", pts: dmriF_L },
    { cls: "O", shape: "circle", pts: dmriO_L }, { cls: "O", shape: "tri", pts: dmriO_R },
    { cls: "P", shape: "circle", pts: dmriP_L }, { cls: "P", shape: "tri", pts: dmriP_R },
    { cls: "S", shape: "circle", pts: dmriS_L }, { cls: "S", shape: "tri", pts: dmriS_R },
    { cls: "T", shape: "circle", pts: dmriT_L }, { cls: "T", shape: "tri", pts: dmriT_R }
  ],
  legends: [
    { title: "Lobe", x: 1121, titleY: 34, keyTop: 44, fill: true, items: lobes, labelGap: 33 },
    { title: "Hemis.", x: 1121, titleY: 224, keyTop: 233, fill: false, items: hemiItems, labelGap: 33 }
  ]
});

drawPanel({
  id: "dii", box: [857, 1102, 348, 570], xDomain: [-0.1725, -0.0273], yDomain: [-0.3095, 0.278],
  xTicks: fmriXTicks, yTicks: fmriYTicks, xFmt: fmt(2), yFmt: fmt(1),
  title: "(D.ii) Human fMRI", titleY: 334, xLabel: "Dimension 1", yLabel: "Dimension 6", yTitleGap: 43,
  colors: { F: hue5[0], O: hue5[1], P: hue5[2], S: hue5[3], T: hue5[4] }, fillAlpha: 0.24,
  area: fmriArea,
  regions: [
    { cls: "S", pts: fmriRegionSRight, smooth: false, stroke: thin },
    { cls: "F", pts: fmriRegionF, smooth: false, stroke: thin },
    { cls: "T", pts: fmriRegionT, smooth: false, stroke: thin },
    { cls: "S", pts: fmriRegionSLeft, smooth: false, stroke: thin },
    { cls: "O", pts: fmriRegionO, smooth: true, stroke: thin }
  ],
  points: [
    { cls: "F", pts: fmriF }, { cls: "O", pts: fmriO }, { cls: "P", pts: fmriP },
    { cls: "S", pts: fmriS }, { cls: "T", pts: fmriT }
  ],
  legends: [{ title: "Lobe", x: 1126, titleY: 395, keyTop: 407, fill: true, items: lobes, labelGap: 30 }]
});

// ---------- (E) performance table ----------
const tableG = svg.append("g");
const colX = [552, 605, 654, 690, 736, 796];
const valueX = [548, 605, 658, 693, 737, 802];
const pct = v => d3.format(".2f")(v).replace(/^0/, "");
tableG.append("text").attr("x", 595).attr("y", 662).attr("text-anchor", "middle")
  .attr("font-size", 23).attr("fill", "#000").text("(E) Classifier Performance");
perfColumns.forEach((c, i) => tableG.append("text").attr("x", colX[i]).attr("y", 694)
  .attr("text-anchor", "middle").attr("font-size", 17).attr("font-weight", "bold").attr("fill", "#000").text(c));
[classifierAccuracy, chanceAccuracy].forEach((row, r) => {
  const yy = 723 + r * 29;
  tableG.append("text").attr("x", 518).attr("y", yy).attr("text-anchor", "end")
    .attr("font-size", 17).attr("font-style", "italic").attr("fill", "#000").text(perfRows[r]);
  row.forEach((v, i) => tableG.append("text").attr("x", valueX[i]).attr("y", yy)
    .attr("text-anchor", "middle").attr("font-size", 17).attr("fill", "#000").text(pct(v)));
});
</script>
</body>
</html>
